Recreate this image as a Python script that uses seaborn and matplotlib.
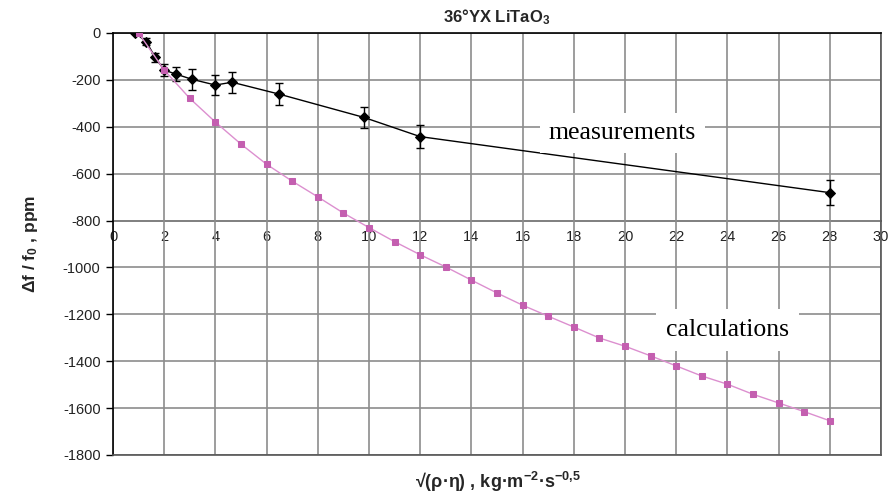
import matplotlib
matplotlib.use("Agg")
import matplotlib.pyplot as plt
import seaborn as sns

# ---- data ----
# measurements (black diamonds, with error bars)
meas_x = [0.87, 1.3, 1.65, 2.0, 2.45, 3.1, 4.0, 4.65, 6.5, 9.8, 12.0, 28.0]
meas_y = [0, -37, -104, -158, -175, -198, -222, -210, -261, -360, -442, -681]
meas_err = [0, 16, 19, 24, 29, 45, 41, 44, 46, 44, 50, 52]

# calculations (pink squares)
calc_x = list(range(1, 29))
calc_y = [0, -158, -279, -380, -474, -560, -632, -699, -768, -830,
          -890, -946, -998, -1054, -1109, -1161, -1208, -1254, -1301, -1336,
          -1377, -1420, -1463, -1498, -1541, -1578, -1615, -1654]

x_ticks = list(range(0, 31, 2))
y_ticks = list(range(-1800, 1, 200))

sns.set_theme(style="white")
plt.rcParams["font.family"] = ["Liberation Sans", "DejaVu Sans"]
plt.rcParams["axes.unicode_minus"] = False
plt.rcParams["mathtext.fontset"] = "custom"
plt.rcParams["mathtext.default"] = "rm"
plt.rcParams["mathtext.rm"] = "Liberation Sans:bold"
plt.rcParams["mathtext.it"] = "Liberation Sans:bold"
plt.rcParams["mathtext.bf"] = "Liberation Sans:bold"

fig, ax = plt.subplots(figsize=(8.91, 5.01), dpi=100)
fig.subplots_adjust(left=113 / 891, right=881 / 891, top=1 - 33 / 501, bottom=1 - 455 / 501)

ax.set_xlim(0, 30)
ax.set_ylim(-1800, 0)
ax.set_xticks(x_ticks)
ax.set_yticks(y_ticks)
ax.grid(True, color="#8c8c8c", linewidth=1.2)
ax.set_axisbelow(True)
ax.tick_params(axis="x", labelbottom=False, bottom=False, length=0)
ax.tick_params(axis="y", left=True, direction="out", length=5, width=1,
               color="black", labelsize=10.5, labelcolor="#222222", pad=4)

for side in ["top", "left"]:
    ax.spines[side].set_color("black")
    ax.spines[side].set_linewidth(1.2)
for side in ["right", "bottom"]:
    ax.spines[side].set_color("#555555")
    ax.spines[side].set_linewidth(1.2)

# x axis drawn through y = -800, as in the original
sec = ax.secondary_xaxis(1000 / 1800)
sec.set_alignment("bottom")
sec.set_xticks(x_ticks)
sec.tick_params(length=0, labelsize=10.5, labelcolor="#222222", pad=7)
sec.spines["bottom"].set_color("#333333")
sec.spines["bottom"].set_linewidth(1.2)

# error bars + measurement line
ax.errorbar(meas_x, meas_y, yerr=meas_err, fmt="none", ecolor="black",
            elinewidth=1, capsize=3, capthick=1, zorder=3)
sns.lineplot(x=meas_x, y=meas_y, ax=ax, color="black", linewidth=1.0,
             marker="D", markersize=5, markeredgecolor="black", zorder=4)

# calculation line
sns.lineplot(x=calc_x, y=calc_y, ax=ax, color="#dc8fcf", linewidth=1.0,
             marker="s", markersize=4, markerfacecolor="#c45fb0",
             markeredgecolor="#c45fb0", zorder=5)

ax.text(19.9, -427, "measurements", family="Liberation Serif", fontsize=18.5,
        ha="center", va="center", color="black",
        bbox=dict(boxstyle="square,pad=0.35", fc="white", ec="none"), zorder=6)
ax.text(24.0, -1267, "calculations", family="Liberation Serif", fontsize=18.5,
        ha="center", va="center", color="black",
        bbox=dict(boxstyle="square,pad=0.4", fc="white", ec="none"), zorder=6)

ax.set_title("36°YX LiTaO$_3$", fontsize=12, fontweight="bold", pad=8)
ax.set_ylabel("Δf / f$_0$ , ppm", fontsize=12.5, fontweight="bold")
ax.yaxis.set_label_coords(-0.095, 0.5)
ax.set_xlabel("")
fig.text(498 / 891, 1 - 482 / 501, "√(ρ·η) , kg·m$^{-2}$·s$^{-0{,}5}$",
         fontsize=13, fontweight="bold", ha="center", va="center")

plt.savefig("out.png", dpi=100)
